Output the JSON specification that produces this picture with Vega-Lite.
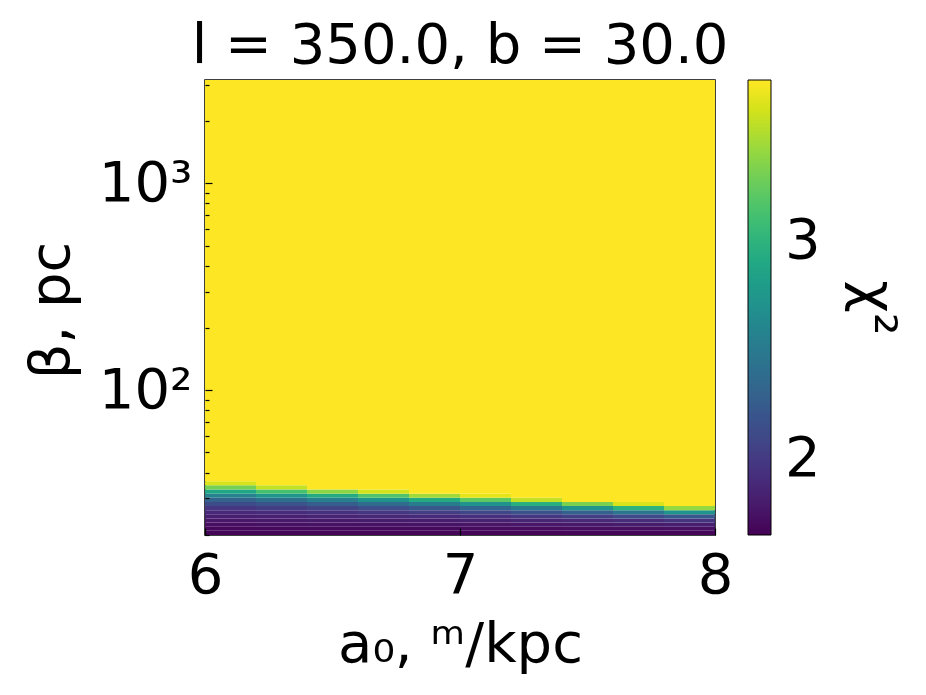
{
  "$schema": "https://vega.github.io/schema/vega-lite/v6.json",
  "width": 510,
  "height": 455,
  "autosize": {"type": "none"},
  "padding": {"left": 205, "top": 80, "right": 211, "bottom": 160},
  "background": "white",
  "title": {"text": "l = 350.0, b = 30.0", "fontSize": 56, "fontWeight": "normal", "font": "DejaVu Sans", "anchor": "middle", "baseline": "alphabetic", "offset": 0, "dy": 62, "color": "black"},
  "data": {"values": [
    {"a0":6.0,"a1":6.2,"b0":19.95,"b1":20.89,"c":1.67},{"a0":6.0,"a1":6.2,"b0":20.89,"b1":21.88,"c":1.69},{"a0":6.0,"a1":6.2,"b0":21.88,"b1":22.91,"c":1.72},{"a0":6.0,"a1":6.2,"b0":22.91,"b1":23.99,"c":1.77},{"a0":6.0,"a1":6.2,"b0":23.99,"b1":25.12,"c":1.82},{"a0":6.0,"a1":6.2,"b0":25.12,"b1":26.30,"c":1.89},{"a0":6.0,"a1":6.2,"b0":26.30,"b1":27.54,"c":1.98},{"a0":6.0,"a1":6.2,"b0":27.54,"b1":28.84,"c":2.12},{"a0":6.0,"a1":6.2,"b0":28.84,"b1":30.20,"c":2.30},{"a0":6.0,"a1":6.2,"b0":30.20,"b1":31.62,"c":2.56},{"a0":6.0,"a1":6.2,"b0":31.62,"b1":33.11,"c":2.89},{"a0":6.0,"a1":6.2,"b0":33.11,"b1":34.67,"c":3.30},{"a0":6.0,"a1":6.2,"b0":34.67,"b1":36.31,"c":3.62},{"a0":6.0,"a1":6.2,"b0":36.31,"b1":3162,"c":3.74},
    {"a0":6.2,"a1":6.4,"b0":19.95,"b1":20.89,"c":1.67},{"a0":6.2,"a1":6.4,"b0":20.89,"b1":21.88,"c":1.69},{"a0":6.2,"a1":6.4,"b0":21.88,"b1":22.91,"c":1.73},{"a0":6.2,"a1":6.4,"b0":22.91,"b1":23.99,"c":1.78},{"a0":6.2,"a1":6.4,"b0":23.99,"b1":25.12,"c":1.83},{"a0":6.2,"a1":6.4,"b0":25.12,"b1":26.30,"c":1.91},{"a0":6.2,"a1":6.4,"b0":26.30,"b1":27.54,"c":2.02},{"a0":6.2,"a1":6.4,"b0":27.54,"b1":28.84,"c":2.18},{"a0":6.2,"a1":6.4,"b0":28.84,"b1":30.20,"c":2.42},{"a0":6.2,"a1":6.4,"b0":30.20,"b1":31.62,"c":2.73},{"a0":6.2,"a1":6.4,"b0":31.62,"b1":33.11,"c":3.12},{"a0":6.2,"a1":6.4,"b0":33.11,"b1":34.67,"c":3.55},{"a0":6.2,"a1":6.4,"b0":34.67,"b1":3162,"c":3.74},
    {"a0":6.4,"a1":6.6,"b0":19.95,"b1":20.89,"c":1.67},{"a0":6.4,"a1":6.6,"b0":20.89,"b1":21.88,"c":1.70},{"a0":6.4,"a1":6.6,"b0":21.88,"b1":22.91,"c":1.74},{"a0":6.4,"a1":6.6,"b0":22.91,"b1":23.99,"c":1.79},{"a0":6.4,"a1":6.6,"b0":23.99,"b1":25.12,"c":1.85},{"a0":6.4,"a1":6.6,"b0":25.12,"b1":26.30,"c":1.94},{"a0":6.4,"a1":6.6,"b0":26.30,"b1":27.54,"c":2.07},{"a0":6.4,"a1":6.6,"b0":27.54,"b1":28.84,"c":2.26},{"a0":6.4,"a1":6.6,"b0":28.84,"b1":30.20,"c":2.54},{"a0":6.4,"a1":6.6,"b0":30.20,"b1":31.62,"c":2.92},{"a0":6.4,"a1":6.6,"b0":31.62,"b1":33.11,"c":3.38},{"a0":6.4,"a1":6.6,"b0":33.11,"b1":3162,"c":3.74},
    {"a0":6.6,"a1":6.8,"b0":19.95,"b1":20.89,"c":1.67},{"a0":6.6,"a1":6.8,"b0":20.89,"b1":21.88,"c":1.70},{"a0":6.6,"a1":6.8,"b0":21.88,"b1":22.91,"c":1.74},{"a0":6.6,"a1":6.8,"b0":22.91,"b1":23.99,"c":1.80},{"a0":6.6,"a1":6.8,"b0":23.99,"b1":25.12,"c":1.87},{"a0":6.6,"a1":6.8,"b0":25.12,"b1":26.30,"c":1.98},{"a0":6.6,"a1":6.8,"b0":26.30,"b1":27.54,"c":2.14},{"a0":6.6,"a1":6.8,"b0":27.54,"b1":28.84,"c":2.38},{"a0":6.6,"a1":6.8,"b0":28.84,"b1":30.20,"c":2.72},{"a0":6.6,"a1":6.8,"b0":30.20,"b1":31.62,"c":3.16},{"a0":6.6,"a1":6.8,"b0":31.62,"b1":33.11,"c":3.60},{"a0":6.6,"a1":6.8,"b0":33.11,"b1":3162,"c":3.74},
    {"a0":6.8,"a1":7.0,"b0":19.95,"b1":20.89,"c":1.67},{"a0":6.8,"a1":7.0,"b0":20.89,"b1":21.88,"c":1.70},{"a0":6.8,"a1":7.0,"b0":21.88,"b1":22.91,"c":1.75},{"a0":6.8,"a1":7.0,"b0":22.91,"b1":23.99,"c":1.81},{"a0":6.8,"a1":7.0,"b0":23.99,"b1":25.12,"c":1.90},{"a0":6.8,"a1":7.0,"b0":25.12,"b1":26.30,"c":2.02},{"a0":6.8,"a1":7.0,"b0":26.30,"b1":27.54,"c":2.22},{"a0":6.8,"a1":7.0,"b0":27.54,"b1":28.84,"c":2.52},{"a0":6.8,"a1":7.0,"b0":28.84,"b1":30.20,"c":2.93},{"a0":6.8,"a1":7.0,"b0":30.20,"b1":31.62,"c":3.45},{"a0":6.8,"a1":7.0,"b0":31.62,"b1":3162,"c":3.74},
    {"a0":7.0,"a1":7.2,"b0":19.95,"b1":20.89,"c":1.67},{"a0":7.0,"a1":7.2,"b0":20.89,"b1":21.88,"c":1.71},{"a0":7.0,"a1":7.2,"b0":21.88,"b1":22.91,"c":1.76},{"a0":7.0,"a1":7.2,"b0":22.91,"b1":23.99,"c":1.83},{"a0":7.0,"a1":7.2,"b0":23.99,"b1":25.12,"c":1.93},{"a0":7.0,"a1":7.2,"b0":25.12,"b1":26.30,"c":2.09},{"a0":7.0,"a1":7.2,"b0":26.30,"b1":27.54,"c":2.34},{"a0":7.0,"a1":7.2,"b0":27.54,"b1":28.84,"c":2.72},{"a0":7.0,"a1":7.2,"b0":28.84,"b1":30.20,"c":3.22},{"a0":7.0,"a1":7.2,"b0":30.20,"b1":31.62,"c":3.66},{"a0":7.0,"a1":7.2,"b0":31.62,"b1":3162,"c":3.74},
    {"a0":7.2,"a1":7.4,"b0":19.95,"b1":20.89,"c":1.67},{"a0":7.2,"a1":7.4,"b0":20.89,"b1":21.88,"c":1.71},{"a0":7.2,"a1":7.4,"b0":21.88,"b1":22.91,"c":1.77},{"a0":7.2,"a1":7.4,"b0":22.91,"b1":23.99,"c":1.85},{"a0":7.2,"a1":7.4,"b0":23.99,"b1":25.12,"c":1.97},{"a0":7.2,"a1":7.4,"b0":25.12,"b1":26.30,"c":2.18},{"a0":7.2,"a1":7.4,"b0":26.30,"b1":27.54,"c":2.50},{"a0":7.2,"a1":7.4,"b0":27.54,"b1":28.84,"c":2.97},{"a0":7.2,"a1":7.4,"b0":28.84,"b1":30.20,"c":3.55},{"a0":7.2,"a1":7.4,"b0":30.20,"b1":3162,"c":3.74},
    {"a0":7.4,"a1":7.6,"b0":19.95,"b1":20.89,"c":1.67},{"a0":7.4,"a1":7.6,"b0":20.89,"b1":21.88,"c":1.72},{"a0":7.4,"a1":7.6,"b0":21.88,"b1":22.91,"c":1.78},{"a0":7.4,"a1":7.6,"b0":22.91,"b1":23.99,"c":1.88},{"a0":7.4,"a1":7.6,"b0":23.99,"b1":25.12,"c":2.03},{"a0":7.4,"a1":7.6,"b0":25.12,"b1":26.30,"c":2.29},{"a0":7.4,"a1":7.6,"b0":26.30,"b1":27.54,"c":2.73},{"a0":7.4,"a1":7.6,"b0":27.54,"b1":28.84,"c":3.32},{"a0":7.4,"a1":7.6,"b0":28.84,"b1":3162,"c":3.74},
    {"a0":7.6,"a1":7.8,"b0":19.95,"b1":20.89,"c":1.67},{"a0":7.6,"a1":7.8,"b0":20.89,"b1":21.88,"c":1.72},{"a0":7.6,"a1":7.8,"b0":21.88,"b1":22.91,"c":1.80},{"a0":7.6,"a1":7.8,"b0":22.91,"b1":23.99,"c":1.91},{"a0":7.6,"a1":7.8,"b0":23.99,"b1":25.12,"c":2.11},{"a0":7.6,"a1":7.8,"b0":25.12,"b1":26.30,"c":2.46},{"a0":7.6,"a1":7.8,"b0":26.30,"b1":27.54,"c":3.00},{"a0":7.6,"a1":7.8,"b0":27.54,"b1":28.84,"c":3.62},{"a0":7.6,"a1":7.8,"b0":28.84,"b1":3162,"c":3.74},
    {"a0":7.8,"a1":8.0,"b0":19.95,"b1":20.89,"c":1.67},{"a0":7.8,"a1":8.0,"b0":20.89,"b1":21.88,"c":1.73},{"a0":7.8,"a1":8.0,"b0":21.88,"b1":22.91,"c":1.82},{"a0":7.8,"a1":8.0,"b0":22.91,"b1":23.99,"c":1.96},{"a0":7.8,"a1":8.0,"b0":23.99,"b1":25.12,"c":2.22},{"a0":7.8,"a1":8.0,"b0":25.12,"b1":26.30,"c":2.71},{"a0":7.8,"a1":8.0,"b0":26.30,"b1":27.54,"c":3.41},{"a0":7.8,"a1":8.0,"b0":27.54,"b1":3162,"c":3.74}
  ]},
  "mark": {"type": "rect"},
  "encoding": {
    "x": {"field": "a0", "type": "quantitative",
      "scale": {"domain": [6, 8], "nice": false, "zero": false},
      "axis": {"values": [6, 7, 8], "labelExpr": "datum.value == 6 ? '6' : datum.value == 7 ? '7' : '8'", "tickSize": -7, "tickColor": "black", "tickWidth": 1.2, "domain": false, "grid": false, "zindex": 2,
        "labelFontSize": 56, "labelColor": "black", "labelPadding": 20, "labelFlush": false, "labelOverlap": false, "labelBound": false, "labelSeparation": 0,
        "title": "a₀, ᵐ/kpc", "titleFontSize": 56, "titleFontWeight": "normal", "titleColor": "black", "titleBaseline": "alphabetic", "titleY": 126}},
    "x2": {"field": "a1"},
    "y": {"field": "b0", "type": "quantitative",
      "scale": {"type": "log", "domain": [19.95, 3162], "nice": false},
      "axis": {"values": [20, 30, 40, 50, 60, 70, 80, 90, 100, 200, 300, 400, 500, 600, 700, 800, 900, 1000, 2000, 3000],
        "labelExpr": "datum.value == 100 ? '10²' : datum.value == 1000 ? '10³' : ''",
        "tickSize": {"condition": {"test": "datum.value == 100 || datum.value == 1000", "value": -7}, "value": -4},
        "tickColor": "black", "tickWidth": 1.2, "domain": false, "grid": false, "zindex": 2,
        "labelFontSize": 56, "labelColor": "black", "labelPadding": 20, "labelFlush": false, "labelOverlap": false, "labelBound": false,
        "title": "β, pc", "titleFontSize": 56, "titleFontWeight": "normal", "titleColor": "black", "titleBaseline": "alphabetic", "titleX": -137, "titleY": 230}},
    "y2": {"field": "b1"},
    "color": {"field": "c", "type": "quantitative",
      "scale": {"scheme": "viridis", "domain": [1.65, 3.74]},
      "legend": {"type": "gradient", "values": [2, 3], "format": "d", "orient": "right", "offset": 33, "padding": 0, "direction": "vertical",
        "gradientLength": 455, "gradientThickness": 23, "gradientStrokeColor": "black", "gradientStrokeWidth": 1,
        "labelFontSize": 56, "labelColor": "black", "labelOffset": 14, "labelOverlap": false,
        "title": "χ²", "titleOrient": "right", "titleAngle": 270, "titleFontSize": 56, "titleFontWeight": "normal", "titleColor": "black", "titlePadding": 24, "titleAnchor": "middle"}}
  },
  "config": {
    "font": "DejaVu Sans",
    "view": {"stroke": "black", "strokeWidth": 1.5}
  }
}
